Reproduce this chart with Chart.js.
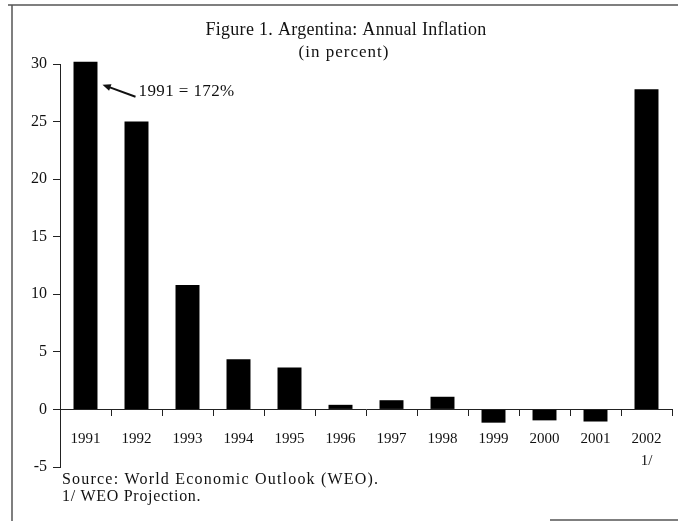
<!DOCTYPE html>
<html>
<head>
<meta charset="utf-8">
<script src="https://cdn.jsdelivr.net/npm/chart.js@4/dist/chart.umd.min.js"></script>
<style>
  html, body { margin: 0; padding: 0; background: #fff; }
  canvas { display: block; }
</style>
</head>
<body>
<canvas id="myChart" width="678" height="521"></canvas>
<script>
const years = ["1991", "1992", "1993", "1994", "1995", "1996", "1997", "1998", "1999", "2000", "2001", ["2002", "1/"]];
const inflation = [30.2, 25.0, 10.8, 4.35, 3.65, 0.4, 0.8, 1.1, -1.15, -0.95, -1.05, 27.8];
const yTicks = [-5, 0, 5, 10, 15, 20, 25, 30];

const serif = "'Liberation Serif', 'DejaVu Serif', serif";

// titles, note, source and the frame lines
const extras = {
    id: 'extras',
    afterDraw(chart) {
        const ctx = chart.ctx;
        const x = chart.scales.x, y = chart.scales.y;
        ctx.save();
        ctx.fillStyle = "#111";
        ctx.textBaseline = "middle";
        ctx.textAlign = "center";
        ctx.font = "18px " + serif;
        ctx.letterSpacing = "0.3px";
        ctx.fillText("Figure 1. Argentina: Annual Inflation", 346, 30);
        ctx.font = "17px " + serif;
        ctx.letterSpacing = "1px";
        ctx.fillText("(in percent)", 344, 53);

        // arrow pointing at the 1991 bar
        const tipX = x.getPixelForValue(0) + 17;
        const tipY = y.getPixelForValue(28.2);
        const endX = tipX + 33, endY = tipY + 12;
        ctx.strokeStyle = "#111";
        ctx.lineWidth = 2;
        ctx.beginPath();
        ctx.moveTo(endX, endY);
        ctx.lineTo(tipX + 6, tipY + 2.2);
        ctx.stroke();
        const a = Math.atan2(tipY - endY, tipX - endX);
        ctx.beginPath();
        ctx.moveTo(tipX, tipY);
        ctx.lineTo(tipX - 9 * Math.cos(a - 0.4), tipY - 9 * Math.sin(a - 0.4));
        ctx.lineTo(tipX - 9 * Math.cos(a + 0.4), tipY - 9 * Math.sin(a + 0.4));
        ctx.closePath();
        ctx.fill();
        ctx.textAlign = "left";
        ctx.font = "17px " + serif;
        ctx.letterSpacing = "0.4px";
        ctx.fillText("1991 = 172%", endX + 3, endY - 5);

        ctx.font = "16px " + serif;
        ctx.letterSpacing = "1.2px";
        ctx.fillText("Source: World Economic Outlook (WEO).", 62, 480);
        ctx.letterSpacing = "0.7px";
        ctx.fillText("1/ WEO Projection.", 62, 497);
        ctx.letterSpacing = "0px";

        // frame
        ctx.strokeStyle = "#555";
        ctx.lineWidth = 1.5;
        ctx.beginPath();
        ctx.moveTo(12, 5); ctx.lineTo(12, 521);
        ctx.moveTo(8, 5); ctx.lineTo(678, 5);
        ctx.moveTo(550, 520); ctx.lineTo(678, 520);
        ctx.stroke();
        ctx.restore();
    }
};

const ctx = document.getElementById('myChart').getContext('2d');
const myChart = new Chart(ctx, {
    type: 'bar',
    data: {
        labels: years,
        datasets: [{
            data: inflation,
            backgroundColor: "#000",
            borderWidth: 0,
            categoryPercentage: 1,
            barPercentage: 0.47,
            clip: false
        }]
    },
    options: {
        responsive: false,
        animation: false,
        devicePixelRatio: 1,
        layout: { padding: { top: 64, bottom: 54, left: 0, right: 6 } },
        plugins: {
            legend: { display: false },
            tooltip: { enabled: false }
        },
        scales: {
            x: {
                position: { y: 0 },
                grid: { display: true, drawOnChartArea: false, offset: true, tickLength: 6, color: "#222", lineWidth: 1 },
                border: { display: true, color: "#222", width: 1 },
                ticks: {
                    color: "#111",
                    font: { family: serif, size: 15, lineHeight: 1.5 },
                    padding: 12,
                    maxRotation: 0,
                    autoSkip: false
                }
            },
            y: {
                min: -5,
                max: 30,
                afterFit: (scale) => { scale.width = 60; },
                afterBuildTicks: (scale) => { scale.ticks = yTicks.map(v => ({ value: v })); },
                grid: { display: true, drawOnChartArea: false, tickLength: 7, color: "#222", lineWidth: 1 },
                border: { display: true, color: "#222", width: 1 },
                ticks: {
                    color: "#111",
                    font: { family: serif, size: 16 },
                    padding: 6
                }
            }
        }
    },
    plugins: [extras]
});
</script>
</body>
</html>
